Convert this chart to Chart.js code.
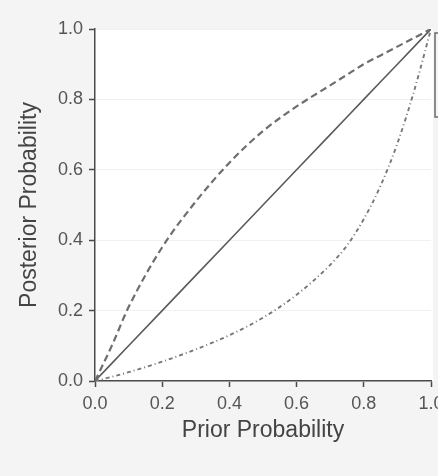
<!DOCTYPE html>
<html>
<head>
<meta charset="utf-8">
<script src="https://cdn.jsdelivr.net/npm/chart.js@4"></script>
<style>
  html, body { margin: 0; padding: 0; background: #f4f4f4; overflow: hidden; }
  #probChart { display: block; }
</style>
</head>
<body>
<canvas id="probChart" width="460" height="476"></canvas>
<script>
// values
var priorX = [0, 0.05, 0.1, 0.2, 0.3, 0.4, 0.5, 0.6, 0.7, 0.75, 0.8, 0.85, 0.9, 0.95, 1.0];
var posteriorHigh = [0, 0.10, 0.21, 0.38, 0.51, 0.62, 0.71, 0.78, 0.84, 0.87, 0.90, 0.925, 0.95, 0.975, 1.0];
var posteriorSame = [0, 0.05, 0.1, 0.2, 0.3, 0.4, 0.5, 0.6, 0.7, 0.75, 0.8, 0.85, 0.9, 0.95, 1.0];
var posteriorLow = [0, 0.012, 0.025, 0.055, 0.09, 0.13, 0.18, 0.245, 0.33, 0.385, 0.46, 0.555, 0.675, 0.825, 1.0];
var tickValues = [0, 0.2, 0.4, 0.6, 0.8, 1.0];

function toPoints(ys) {
    var pts = [];
    for (var i = 0; i < priorX.length; i++) {
        pts.push({x: priorX[i], y: ys[i]});
    }
    return pts;
}

// white plot area on grey page + clipped legend frame on the right
var backdrop = {
    id: 'backdrop',
    beforeDraw: function(chart) {
        var c = chart.ctx, a = chart.chartArea;
        c.save();
        c.fillStyle = '#f4f4f4';
        c.fillRect(0, 0, chart.width, chart.height);
        c.fillStyle = '#ffffff';
        c.fillRect(a.left, a.top, a.right - a.left + 2, a.bottom - a.top);
        c.restore();
    },
    afterDraw: function(chart) {
        var c = chart.ctx, a = chart.chartArea;
        c.save();
        c.strokeStyle = '#6a6a6a';
        c.lineWidth = 1.5;
        c.strokeRect(a.right + 4, a.top + 4, 60, 84);
        c.restore();
    }
};

var tickFont = {family: "'Liberation Sans', Arial, sans-serif", size: 18};
var titleFont = {family: "'Liberation Sans', Arial, sans-serif", size: 23};

var ctx = document.getElementById('probChart').getContext('2d');
var chart = new Chart(ctx, {
    type: 'line',
    data: {
        datasets: [{
            label: 'High',
            data: toPoints(posteriorHigh),
            borderColor: '#6e6e6e',
            borderWidth: 2.2,
            borderDash: [7, 4],
            cubicInterpolationMode: 'monotone'
        }, {
            label: 'Same',
            data: toPoints(posteriorSame),
            borderColor: '#5a5a5a',
            borderWidth: 1.6
        }, {
            label: 'Low',
            data: toPoints(posteriorLow),
            borderColor: '#777777',
            borderWidth: 1.9,
            borderDash: [4, 3, 1, 3],
            cubicInterpolationMode: 'monotone'
        }]
    },
    options: {
        responsive: false,
        animation: false,
        layout: { padding: { left: 0, top: 29, right: 29, bottom: 30 } },
        elements: { point: { radius: 0 } },
        plugins: { legend: { display: false }, tooltip: { enabled: false } },
        scales: {
            x: {
                type: 'linear',
                min: 0,
                max: 1,
                afterBuildTicks: function(s) { s.ticks = tickValues.map(function(v) { return {value: v}; }); },
                afterFit: function(s) { s.height = 65; },
                border: { color: '#4a4a4a', width: 1.5 },
                grid: { drawOnChartArea: false, tickLength: 6, tickColor: '#4a4a4a', tickWidth: 1.5 },
                ticks: { color: '#555', font: tickFont, padding: 6, maxRotation: 0,
                    callback: function(v) { return v.toFixed(1); } },
                title: { display: true, text: 'Prior Probability', color: '#444', font: titleFont, padding: { top: 2, bottom: 2 } }
            },
            y: {
                type: 'linear',
                min: 0,
                max: 1,
                afterBuildTicks: function(s) { s.ticks = tickValues.map(function(v) { return {value: v}; }); },
                afterFit: function(s) { s.width = 95; },
                border: { color: '#4a4a4a', width: 1.5 },
                grid: { color: '#f1f1f1', tickLength: 6, tickColor: '#4a4a4a', tickWidth: 1.5 },
                ticks: { color: '#555', font: tickFont, padding: 6,
                    callback: function(v) { return v.toFixed(1); } },
                title: { display: true, text: 'Posterior Probability', color: '#444', font: titleFont, padding: { top: 16 } }
            }
        }
    },
    plugins: [backdrop]
});
</script>
</body>
</html>
